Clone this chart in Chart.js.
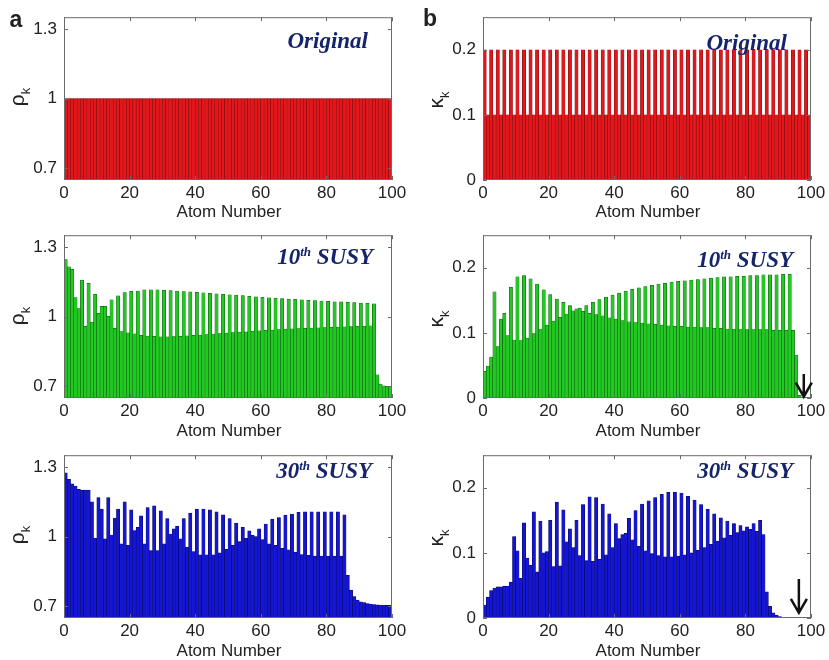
<!DOCTYPE html>
<html lang="en">
<head>
<meta charset="UTF-8">
<title>SUSY partner chains - rho and kappa</title>
<script src="https://cdn.jsdelivr.net/npm/chart.js@4.4.0/dist/chart.umd.min.js"></script>
<style>
  *{margin:0;padding:0;box-sizing:border-box}
  body{width:829px;height:660px;background:#fff;position:relative;overflow:hidden;font-family:"Liberation Sans",Arial,sans-serif;color:#222}
  canvas{position:absolute}
  .lbl{position:absolute;white-space:nowrap}
  .letter{font-weight:bold;font-size:23px;transform:translate(-50%,-50%)}
  .title{font-family:"Liberation Serif","Times New Roman",serif;font-style:italic;font-weight:bold;font-size:23px;color:#15256b;transform:translate(-100%,-50%)}
  .title sup{font-size:13px;vertical-align:8px}
  .xlab{font-size:17px;transform:translate(-50%,-50%)}
  .ylab{font-size:21px;transform:translate(-50%,-50%) rotate(-90deg)}
  .ylab sub{font-size:13px}
</style>
</head>
<body>
  <canvas id="rhoOrig"  width="415" height="220" style="left:0;top:0"></canvas>
  <canvas id="kapOrig"  width="414" height="220" style="left:415px;top:0"></canvas>
  <canvas id="rho10"    width="415" height="220" style="left:0;top:218px"></canvas>
  <canvas id="kap10"    width="414" height="220" style="left:415px;top:218px"></canvas>
  <canvas id="rho30"    width="415" height="220" style="left:0;top:438px"></canvas>
  <canvas id="kap30"    width="414" height="220" style="left:415px;top:438px"></canvas>

  <!-- panel letters -->
  <div class="lbl letter" style="left:16px;top:19px">a</div>
  <div class="lbl letter" style="left:430px;top:18px">b</div>

  <!-- panel titles -->
  <div class="lbl title" style="left:368px;top:41px">Original</div>
  <div class="lbl title" style="left:787px;top:43px">Original</div>
  <div class="lbl title" style="left:373px;top:257px">10<sup>th</sup> SUSY</div>
  <div class="lbl title" style="left:793px;top:260px">10<sup>th</sup> SUSY</div>
  <div class="lbl title" style="left:372px;top:471px">30<sup>th</sup> SUSY</div>
  <div class="lbl title" style="left:793px;top:471px">30<sup>th</sup> SUSY</div>

  <!-- axis titles -->
  <div class="lbl ylab" style="left:19px;top:97px">ρ<sub>k</sub></div>
  <div class="lbl ylab" style="left:438px;top:100px">κ<sub>k</sub></div>
  <div class="lbl ylab" style="left:19px;top:316px">ρ<sub>k</sub></div>
  <div class="lbl ylab" style="left:438px;top:319px">κ<sub>k</sub></div>
  <div class="lbl ylab" style="left:19px;top:535px">ρ<sub>k</sub></div>
  <div class="lbl ylab" style="left:438px;top:538px">κ<sub>k</sub></div>
  <div class="lbl xlab" style="left:229px;top:212px">Atom Number</div>
  <div class="lbl xlab" style="left:648px;top:212px">Atom Number</div>
  <div class="lbl xlab" style="left:229px;top:431px">Atom Number</div>
  <div class="lbl xlab" style="left:648px;top:431px">Atom Number</div>
  <div class="lbl xlab" style="left:229px;top:651px">Atom Number</div>
  <div class="lbl xlab" style="left:648px;top:651px">Atom Number</div>

<script>
// ---- data ----
const atoms = Array.from({length: 100}, (_, i) => i + 1);
const xTicks = [0, 20, 40, 60, 80, 100];
const rhoTicks = [0.7, 1, 1.3];
const kappaTicks = [0, 0.1, 0.2];

const rhoOriginal = [
  1,1,1,1,1,1,1,1,1,1, 1,1,1,1,1,1,1,1,1,1, 1,1,1,1,1,1,1,1,1,1, 1,1,1,1,1,1,1,1,1,1,
  1,1,1,1,1,1,1,1,1,1, 1,1,1,1,1,1,1,1,1,1, 1,1,1,1,1,1,1,1,1,1, 1,1,1,1,1,1,1,1,1,1,
  1,1,1,1,1,1,1,1,1,1, 1,1,1,1,1,1,1,1,1,1
];
const kappaOriginal = [
  0.2,0.1,0.2,0.1,0.2,0.1,0.2,0.1,0.2,0.1, 0.2,0.1,0.2,0.1,0.2,0.1,0.2,0.1,0.2,0.1,
  0.2,0.1,0.2,0.1,0.2,0.1,0.2,0.1,0.2,0.1, 0.2,0.1,0.2,0.1,0.2,0.1,0.2,0.1,0.2,0.1,
  0.2,0.1,0.2,0.1,0.2,0.1,0.2,0.1,0.2,0.1, 0.2,0.1,0.2,0.1,0.2,0.1,0.2,0.1,0.2,0.1,
  0.2,0.1,0.2,0.1,0.2,0.1,0.2,0.1,0.2,0.1, 0.2,0.1,0.2,0.1,0.2,0.1,0.2,0.1,0.2,0.1,
  0.2,0.1,0.2,0.1,0.2,0.1,0.2,0.1,0.2,0.1, 0.2,0.1,0.2,0.1,0.2,0.1,0.2,0.1,0.2,0.1
];
const rho10 = [
  1.245,1.214,1.203,1.082,1.035,1.157,0.958,1.143,0.976,1.096,
  1.014,1.044,1.044,1.001,1.072,0.950,1.089,0.936,1.103,0.930,
  1.109,0.926,1.110,0.919,1.115,0.916,1.115,0.915,1.115,0.913,
  1.113,0.913,1.112,0.914,1.110,0.915,1.108,0.917,1.106,0.919,
  1.104,0.921,1.102,0.923,1.100,0.925,1.098,0.927,1.096,0.929,
  1.094,0.931,1.092,0.933,1.090,0.935,1.087,0.937,1.085,0.939,
  1.083,0.941,1.081,0.942,1.079,0.944,1.077,0.946,1.075,0.947,
  1.074,0.948,1.072,0.950,1.070,0.951,1.069,0.952,1.067,0.953,
  1.066,0.954,1.064,0.955,1.063,0.956,1.061,0.957,1.060,0.958,
  1.058,0.959,1.057,0.960,1.055,0.750,0.710,0.702,0.700,0.700
];
const kappa10 = [
  0.041,0.049,0.063,0.163,0.079,0.121,0.130,0.096,0.170,0.089,
  0.186,0.088,0.188,0.092,0.183,0.099,0.175,0.106,0.166,0.112,
  0.159,0.118,0.152,0.124,0.147,0.129,0.142,0.134,0.137,0.138,
  0.133,0.142,0.130,0.147,0.128,0.151,0.126,0.155,0.123,0.158,
  0.121,0.161,0.119,0.164,0.117,0.167,0.116,0.169,0.115,0.171,
  0.114,0.173,0.113,0.175,0.112,0.176,0.111,0.178,0.110,0.179,
  0.110,0.180,0.109,0.181,0.109,0.182,0.108,0.183,0.108,0.184,
  0.107,0.185,0.107,0.186,0.106,0.186,0.106,0.187,0.106,0.187,
  0.105,0.188,0.105,0.188,0.105,0.189,0.105,0.189,0.104,0.189,
  0.104,0.190,0.104,0.190,0.104,0.066,0.004,0.001,0,0
];
const rho30 = [
  1.274,1.246,1.227,1.217,1.203,1.200,1.200,1.200,1.149,0.993,
  1.168,1.118,0.990,1.168,1.007,1.080,1.118,0.969,1.150,0.962,
  1.115,1.026,1.040,1.089,0.969,1.125,0.940,1.132,0.940,1.111,
  0.969,1.078,1.011,1.033,1.044,0.990,1.078,0.955,1.101,0.936,
  1.118,0.922,1.118,0.922,1.115,0.922,1.107,0.930,1.094,0.945,
  1.078,0.962,1.058,0.979,1.040,0.993,1.025,1.005,1.000,1.033,
  0.987,1.054,0.969,1.075,0.962,1.082,0.950,1.092,0.943,1.097,
  0.933,1.104,0.923,1.107,0.919,1.107,0.916,1.107,0.916,1.107,
  0.916,1.107,0.916,1.107,0.916,1.094,0.834,0.770,0.742,0.727,
  0.720,0.716,0.712,0.710,0.708,0.707,0.706,0.706,0.705,0.705
];
const kappa30 = [
  0.020,0.032,0.042,0.046,0.048,0.048,0.049,0.049,0.055,0.125,
  0.103,0.061,0.146,0.092,0.081,0.163,0.071,0.149,0.100,0.102,
  0.150,0.079,0.178,0.080,0.166,0.117,0.137,0.108,0.150,0.096,
  0.174,0.088,0.186,0.087,0.185,0.090,0.175,0.097,0.160,0.108,
  0.145,0.122,0.128,0.130,0.153,0.120,0.165,0.110,0.175,0.103,
  0.180,0.099,0.185,0.096,0.190,0.094,0.193,0.094,0.193,0.095,
  0.192,0.097,0.187,0.100,0.181,0.104,0.174,0.108,0.167,0.113,
  0.160,0.118,0.154,0.123,0.149,0.127,0.145,0.131,0.142,0.134,
  0.140,0.136,0.145,0.133,0.150,0.128,0.040,0.018,0.008,0.004,
  0.002,0.001,0.0005,0,0,0,0,0,0,0
];

// ---- colours ----
const RED = ['#e3161b', '#6e0b0b'];
const GREEN = ['#22c922', '#0b4d0b'];
const BLUE = ['#1515d6', '#06064f'];

// frame box, inward ticks on all four sides, optional arrow
const frame = {
  id: 'frame',
  afterDraw(chart, args, opts) {
    const {ctx, chartArea: a, scales: {x, y}} = chart;
    ctx.save();
    ctx.strokeStyle = '#6a6a6a';
    ctx.lineWidth = 1;
    ctx.strokeRect(a.left + 0.5, a.top + 0.5, a.width - 1, a.height - 1);
    ctx.beginPath();
    x.ticks.forEach(t => {
      const px = Math.round(x.getPixelForValue(t.value)) + 0.5;
      ctx.moveTo(px, a.bottom); ctx.lineTo(px, a.bottom - 4);
      ctx.moveTo(px, a.top); ctx.lineTo(px, a.top + 4);
    });
    y.ticks.forEach(t => {
      const py = Math.round(y.getPixelForValue(t.value)) + 0.5;
      ctx.moveTo(a.left, py); ctx.lineTo(a.left + 4, py);
      ctx.moveTo(a.right, py); ctx.lineTo(a.right - 4, py);
    });
    ctx.stroke();
    if (opts.arrow) {
      const px = x.getPixelForValue(opts.arrow.x);
      const top = y.getPixelForValue(opts.arrow.top);
      const tip = y.getPixelForValue(opts.arrow.tip);
      ctx.strokeStyle = '#111';
      ctx.lineWidth = 2.5;
      ctx.beginPath();
      ctx.moveTo(px, top); ctx.lineTo(px, tip);
      ctx.moveTo(px - 8, tip - 14); ctx.lineTo(px, tip); ctx.lineTo(px + 8, tip - 14);
      ctx.stroke();
    }
    ctx.restore();
  }
};

function makePanel(id, values, colors, yMin, yMax, yTicks, yWidth, padRight, arrow) {
  new Chart(document.getElementById(id), {
    type: 'bar',
    data: {
      datasets: [{
        data: values.map((v, i) => ({x: atoms[i] - 0.5, y: v})),
        backgroundColor: colors[0],
        borderColor: colors[1],
        borderWidth: 0.5,
        barPercentage: 1,
        categoryPercentage: 1
      }]
    },
    options: {
      responsive: false,
      animation: false,
      layout: {padding: {top: 15, right: padRight, left: 0, bottom: 0}},
      plugins: {legend: {display: false}, tooltip: {enabled: false}, frame: {arrow: arrow}},
      scales: {
        x: {
          type: 'linear', min: 0, max: 100, offset: false,
          grid: {display: false, drawTicks: false}, border: {display: false},
          afterBuildTicks: s => { s.ticks = xTicks.map(v => ({value: v})); },
          afterFit: s => { s.height = 40; },
          ticks: {autoSkip: false, maxRotation: 0, padding: 3, color: '#222',
                  font: {family: '"Liberation Sans", Arial, sans-serif', size: 17}}
        },
        y: {
          min: yMin, max: yMax,
          grid: {display: false, drawTicks: false}, border: {display: false},
          afterBuildTicks: s => { s.ticks = yTicks.map(v => ({value: v})); },
          afterFit: s => { s.width = yWidth; },
          ticks: {padding: 7, color: '#222', callback: v => String(v),
                  font: {family: '"Liberation Sans", Arial, sans-serif', size: 17}}
        }
      }
    },
    plugins: [frame]
  });
}

makePanel('rhoOrig', rhoOriginal, RED, 0.65, 1.35, rhoTicks, 64, 23, null);
makePanel('kapOrig', kappaOriginal, RED, 0, 0.25, kappaTicks, 68, 18, null);
makePanel('rho10', rho10, GREEN, 0.65, 1.35, rhoTicks, 64, 23, null);
makePanel('kap10', kappa10, GREEN, 0, 0.25, kappaTicks, 68, 18, {x: 97.8, top: 0.037, tip: 0.002});
makePanel('rho30', rho30, BLUE, 0.65, 1.35, rhoTicks, 64, 23, null);
makePanel('kap30', kappa30, BLUE, 0, 0.25, kappaTicks, 68, 18, {x: 96.3, top: 0.06, tip: 0.008});
</script>
</body>
</html>
